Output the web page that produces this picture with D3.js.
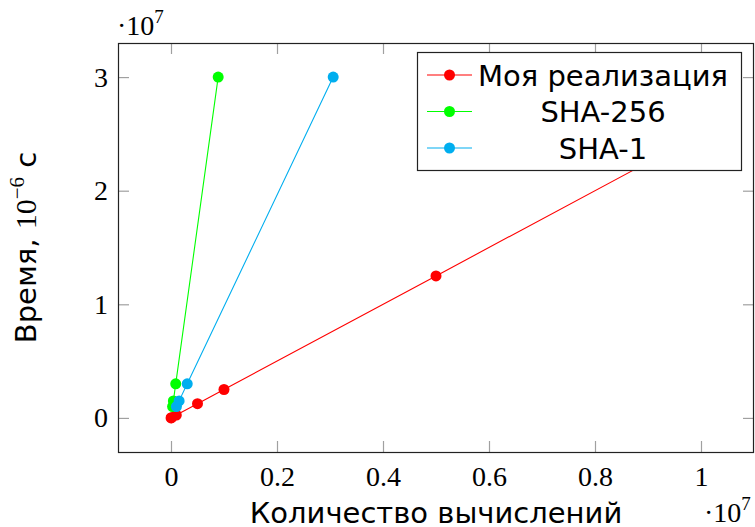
<!DOCTYPE html>
<html>
<head>
<meta charset="utf-8">
<script src="https://cdn.jsdelivr.net/npm/d3@7"></script>
<style>
  body { margin: 0; background: #fff; }
  svg { display: block; }
</style>
</head>
<body>
<svg id="chart" width="755" height="527"></svg>
<script>
// data
const seriesNames = ["Моя реализация", "SHA-256", "SHA-1"];
const seriesColors = ["#ff0000", "#00ff00", "#00aeef"];
const myX = [1e3, 1e4, 1e5, 5e5, 1e6, 5e6, 1e7];
const myY = [2.5e3, 2.5e4, 2.5e5, 1.25e6, 2.5e6, 1.25e7, 2.5e7];
const sha256X = [2.97e4, 4.45e4, 8.9e4, 8.9e5];
const sha256Y = [1e6, 1.5e6, 3e6, 3e7];
const sha1X = [1.02e5, 1.53e5, 3.06e5, 3.06e6];
const sha1Y = [1e6, 1.5e6, 3e6, 3e7];
const xTicks = [0, 0.2e7, 0.4e7, 0.6e7, 0.8e7, 1e7];
const yTicks = [0, 1e7, 2e7, 3e7];
const xLabel = "Количество вычислений";

const series = [
  { name: seriesNames[0], color: seriesColors[0], pts: myX.map((x, i) => [x, myY[i]]) },
  { name: seriesNames[1], color: seriesColors[1], pts: sha256X.map((x, i) => [x, sha256Y[i]]) },
  { name: seriesNames[2], color: seriesColors[2], pts: sha1X.map((x, i) => [x, sha1Y[i]]) }
];

const box = { left: 118, right: 754, top: 43, bottom: 452 };
const serif = "'Liberation Serif', 'DejaVu Serif', serif";
const sans = "'DejaVu Sans', sans-serif";

const svg = d3.select("#chart");

const x = d3.scaleLinear().domain([-0.1e7, 1.1e7]).range([box.left, box.right]);
const y = d3.scaleLinear().domain([-0.3e7, 3.3e7]).range([box.bottom, box.top]);

const fmt = v => d3.format("~g")(v / 1e7);

// ticks on all four sides, pointing inward
function styleAxis(g, showText) {
  g.select(".domain").remove();
  g.selectAll(".tick line").attr("stroke", "#a0a0a0").attr("stroke-width", 1.2);
  g.selectAll(".tick text")
    .attr("font-family", serif).attr("font-size", 28).attr("fill", "#000");
  if (!showText) g.selectAll(".tick text").remove();
}

svg.append("g").attr("transform", `translate(0,${box.bottom})`)
  .call(d3.axisBottom(x).tickValues(xTicks).tickFormat(fmt).tickSize(-11).tickPadding(14))
  .call(g => styleAxis(g, true));
svg.append("g").attr("transform", `translate(0,${box.top})`)
  .call(d3.axisTop(x).tickValues(xTicks).tickSize(-11))
  .call(g => styleAxis(g, false));
svg.append("g").attr("transform", `translate(${box.left},0)`)
  .call(d3.axisLeft(y).tickValues(yTicks).tickFormat(fmt).tickSize(-11).tickPadding(10))
  .call(g => styleAxis(g, true));
svg.append("g").attr("transform", `translate(${box.right},0)`)
  .call(d3.axisRight(y).tickValues(yTicks).tickSize(-11))
  .call(g => styleAxis(g, false));

// plot lines + markers
const line = d3.line().x(d => x(d[0])).y(d => y(d[1]));
const plots = svg.append("g");
series.forEach(s => {
  const g = plots.append("g");
  g.append("path").datum(s.pts)
    .attr("d", line).attr("fill", "none")
    .attr("stroke", s.color).attr("stroke-width", 1.1);
  g.selectAll("circle").data(s.pts).join("circle")
    .attr("cx", d => x(d[0])).attr("cy", d => y(d[1]))
    .attr("r", 5.5).attr("fill", s.color);
});

// frame
svg.append("rect")
  .attr("x", box.left + 0.5).attr("y", box.top + 0.5)
  .attr("width", box.right - box.left - 1).attr("height", box.bottom - box.top)
  .attr("fill", "none").attr("stroke", "#222").attr("stroke-width", 1.2);

// exponent markers
function expLabel(tx, ty) {
  const t = svg.append("text").attr("x", tx).attr("y", ty)
    .attr("font-family", serif).attr("font-size", 28).attr("fill", "#000");
  t.append("tspan").text("·10");
  t.append("tspan").attr("font-size", 19).attr("dy", -12).text("7");
}
expLabel(117, 35);
expLabel(704, 522);

// axis labels
svg.append("text")
  .attr("x", (box.left + box.right) / 2).attr("y", 523)
  .attr("text-anchor", "middle")
  .attr("font-family", sans).attr("font-size", 29).attr("fill", "#000")
  .text(xLabel);

const yl = svg.append("text")
  .attr("transform", `translate(36,${(box.top + box.bottom) / 2}) rotate(-90)`)
  .attr("text-anchor", "middle")
  .attr("font-family", sans).attr("font-size", 29).attr("fill", "#000");
yl.append("tspan").text("Время, ");
yl.append("tspan").attr("font-family", serif).attr("font-size", 30).text("10");
yl.append("tspan").attr("font-family", serif).attr("font-size", 21).attr("dy", -12).text("−6");
yl.append("tspan").attr("dy", 12).text(" с");

// legend
const leg = svg.append("g");
leg.append("rect")
  .attr("x", 417.5).attr("y", 52.5).attr("width", 324).attr("height", 118)
  .attr("fill", "#fff").attr("stroke", "#222").attr("stroke-width", 1.2);
const rowY = d3.scalePoint().domain(seriesNames).range([75, 148]);
series.forEach(s => {
  const ry = rowY(s.name);
  leg.append("line").attr("x1", 427).attr("x2", 472).attr("y1", ry).attr("y2", ry)
    .attr("stroke", s.color).attr("stroke-width", 1.1);
  leg.append("circle").attr("cx", 449.5).attr("cy", ry).attr("r", 5.5).attr("fill", s.color);
  leg.append("text").attr("x", 603).attr("y", ry + 10.5)
    .attr("text-anchor", "middle")
    .attr("font-family", sans).attr("font-size", 29).attr("fill", "#000")
    .text(s.name);
});
</script>
</body>
</html>
